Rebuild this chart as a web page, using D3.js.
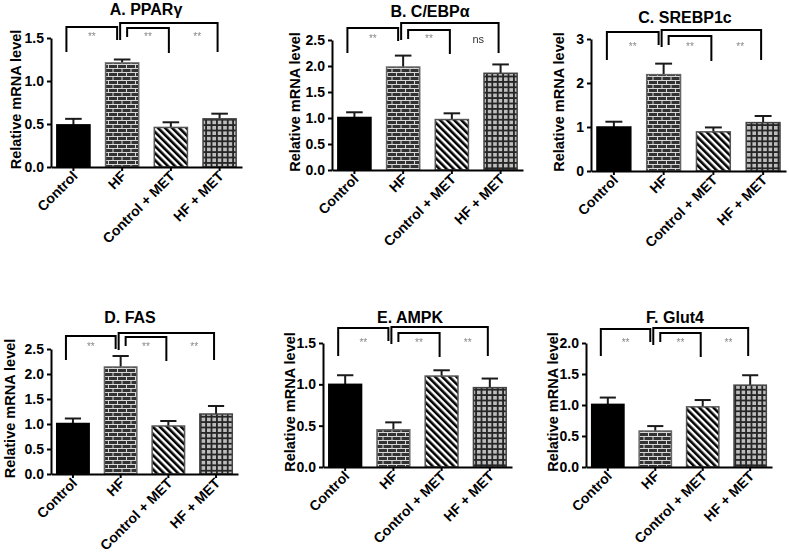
<!DOCTYPE html>
<html>
<head>
<meta charset="utf-8">
<script src="https://cdn.jsdelivr.net/npm/d3@7"></script>
<style>
  body { margin: 0; background: #fff; }
  text { font-family: "Liberation Sans", Arial, sans-serif; }
  .sigs { filter: grayscale(1); }
</style>
</head>
<body>
<svg id="fig" width="789" height="553"></svg>
<script>
// groups and panel titles
var groups = ["Control", "HF", "Control + MET", "HF + MET"];
var titles = ["A. PPAR\u03b3", "B. C/EBP\u03b1", "C. SREBP1c", "D. FAS", "E. AMPK", "F. Glut4"];

// mean relative mRNA level per group, and SEM
var pparg = [0.49, 1.21, 0.46, 0.56];
var ppargErr = [0.07, 0.04, 0.06, 0.06];
var cebpa = [1.01, 1.98, 0.97, 1.86];
var cebpaErr = [0.10, 0.22, 0.12, 0.17];
var srebp1c = [1.00, 2.19, 0.89, 1.10];
var srebp1cErr = [0.12, 0.25, 0.10, 0.15];
var fas = [1.01, 2.14, 0.96, 1.20];
var fasErr = [0.10, 0.22, 0.10, 0.16];
var ampk = [1.00, 0.45, 1.10, 0.96];
var ampkErr = [0.11, 0.09, 0.07, 0.11];
var glut4 = [1.01, 0.58, 0.97, 1.32];
var glut4Err = [0.11, 0.08, 0.11, 0.16];

// y axis max and tick step
var yMax = [1.5, 2.5, 3, 2.5, 1.5, 2.0];
var yStep = [0.5, 0.5, 1, 0.5, 0.5, 0.5];

// significance: HF vs Control, HF vs Control+MET, HF vs HF+MET
var sig = [
  ["**", "**", "**"],
  ["**", "**", "ns"],
  ["**", "**", "**"],
  ["**", "**", "**"],
  ["**", "**", "**"],
  ["**", "**", "**"]
];

var means = [pparg, cebpa, srebp1c, fas, ampk, glut4];
var errs = [ppargErr, cebpaErr, srebp1cErr, fasErr, ampkErr, glut4Err];

// panel placement (px)
var layout = [
  {x0: 51,  x1: 242, yTop: 38,  yBot: 167, titleX: 146, titleY: 15,  labelX: 16,  br: [-11, -15, -10, 14, 0]},
  {x0: 332, x1: 523, yTop: 40,  yBot: 170, titleX: 430, titleY: 17,  labelX: 295, br: [-12, -17, -10, 13, 0]},
  {x0: 591, x1: 786, yTop: 39,  yBot: 171, titleX: 685, titleY: 23,  labelX: 559, br: [-7, -9, -3, 21, 9]},
  {x0: 51,  x1: 238, yTop: 349, yBot: 474, titleX: 130, titleY: 323, labelX: 10,  br: [-13, -16, -12, 11, -1]},
  {x0: 323, x1: 512, yTop: 343, yBot: 467, titleX: 410, titleY: 323, labelX: 290, br: [-15, -16, -10, 13, 1]},
  {x0: 586, x1: 772, yTop: 343, yBot: 467, titleX: 675, titleY: 323, labelX: 553, br: [-14, -15, -10, 13, 1]}
];

var svg = d3.select("#fig");
var defs = svg.append("defs");

// brick pattern for HF
var brick = defs.append("pattern").attr("id", "brick")
  .attr("patternUnits", "userSpaceOnUse").attr("width", 9).attr("height", 8);
brick.append("rect").attr("width", 9).attr("height", 8).attr("fill", "#333");
brick.append("path")
  .attr("d", "M0,0.5H9M0,4.5H9M0.5,0V4.5M5,4.5V8")
  .attr("stroke", "#d8d8d8").attr("stroke-width", 1).attr("fill", "none");

// diagonal stripes for Control + MET
var stripe = defs.append("pattern").attr("id", "stripe")
  .attr("patternUnits", "userSpaceOnUse").attr("width", 5).attr("height", 5)
  .attr("patternTransform", "rotate(-45)");
stripe.append("rect").attr("width", 5).attr("height", 5).attr("fill", "#fff");
stripe.append("rect").attr("width", 2.6).attr("height", 5).attr("fill", "#000");

// grid for HF + MET
var grid = defs.append("pattern").attr("id", "grid")
  .attr("patternUnits", "userSpaceOnUse").attr("width", 5.4).attr("height", 5.4);
grid.append("rect").attr("width", 5.4).attr("height", 5.4).attr("fill", "#262626");
grid.append("rect").attr("x", 1.8).attr("y", 1.8).attr("width", 3.6).attr("height", 3.6).attr("fill", "#bdbdbd");

var fills = ["#000", "url(#brick)", "url(#stripe)", "url(#grid)"];
var strokes = ["#000", "#666", "#555", "#444"];

layout.forEach(function(p, i) {
  drawPanel(p, i);
});

function drawPanel(p, i) {
  var g = svg.append("g");
  var x = d3.scaleBand().domain(groups).range([p.x0, p.x1])
    .paddingInner(0.32).paddingOuter(0.12);
  var y = d3.scaleLinear().domain([0, yMax[i]]).range([p.yBot, p.yTop]);
  var bw = x.bandwidth();

  var rows = groups.map(function(name, k) {
    return {name: name, v: means[i][k], e: errs[i][k], k: k};
  });

  // error bars (upper only)
  var eb = g.selectAll(".err").data(rows).join("g").attr("class", "err")
    .attr("stroke", "#1a1a1a").attr("stroke-width", 2);
  eb.append("line")
    .attr("x1", function(d) { return x(d.name) + bw / 2; })
    .attr("x2", function(d) { return x(d.name) + bw / 2; })
    .attr("y1", function(d) { return y(d.v); })
    .attr("y2", function(d) { return y(d.v + d.e); });
  eb.append("line")
    .attr("x1", function(d) { return x(d.name) + bw / 4; })
    .attr("x2", function(d) { return x(d.name) + bw * 3 / 4; })
    .attr("y1", function(d) { return y(d.v + d.e); })
    .attr("y2", function(d) { return y(d.v + d.e); });

  // bars
  g.selectAll(".bar").data(rows).join("rect").attr("class", "bar")
    .attr("x", function(d) { return x(d.name); })
    .attr("width", bw)
    .attr("y", function(d) { return y(d.v); })
    .attr("height", function(d) { return y(0) - y(d.v); })
    .attr("fill", function(d) { return fills[d.k]; })
    .attr("stroke", function(d) { return strokes[d.k]; })
    .attr("stroke-width", 1.5);

  // axes
  var ticks = d3.range(0, yMax[i] + 1e-9, yStep[i]);
  var yAxis = d3.axisLeft(y).tickValues(ticks)
    .tickFormat(yStep[i] < 1 ? d3.format(".1f") : d3.format("d"))
    .tickSize(4).tickSizeOuter(0).tickPadding(3);
  var ya = g.append("g").attr("transform", "translate(" + p.x0 + ",0)").call(yAxis);

  var xAxis = d3.axisBottom(x).tickSize(4).tickSizeOuter(0).tickPadding(2);
  var xa = g.append("g").attr("transform", "translate(0," + p.yBot + ")").call(xAxis);

  [ya, xa].forEach(function(a) {
    a.select(".domain").attr("stroke", "#000").attr("stroke-width", 2);
    a.selectAll(".tick line").attr("stroke", "#000").attr("stroke-width", 2);
    a.selectAll(".tick text").attr("fill", "#000")
      .style("font-family", "'Liberation Sans', Arial, sans-serif")
      .style("font-weight", "bold").style("font-size", "14px");
  });
  xa.selectAll(".tick text")
    .attr("text-anchor", "end")
    .attr("dy", null).attr("y", null)
    .attr("transform", "translate(5,10) rotate(-45)");

  // y axis title
  g.append("text")
    .attr("transform", "translate(" + (p.labelX + 5) + "," + ((p.yTop + p.yBot) / 2 - 3) + ") rotate(-90)")
    .attr("text-anchor", "middle")
    .style("font-weight", "bold").style("font-size", "14.5px")
    .text("Relative mRNA level");

  // panel title
  g.append("text")
    .attr("x", p.titleX).attr("y", p.titleY)
    .attr("text-anchor", "middle")
    .style("font-weight", "bold").style("font-size", "16px")
    .text(titles[i]);

  // significance brackets
  var c = groups.map(function(n) { return x(n) + bw / 2; });
  var b = p.br;
  var t1 = p.yTop + b[0], tOut = p.yTop + b[1], tIn = p.yTop + b[2], bot = p.yTop + b[3];
  var legs = [
    [c[0] - 7, bot, t1, c[1] - 5, t1 + 13],
    [c[1] + 5, tIn + 9, tIn, c[2] - 2, bot + 1],
    [c[1] - 2, tOut + 17, tOut, c[3] - 2, bot]
  ];
  g.selectAll(".brk").data(legs).join("path").attr("class", "brk")
    .attr("d", function(d) { return "M" + d[0] + "," + d[1] + "V" + d[2] + "H" + d[3] + "V" + d[4]; })
    .attr("fill", "none").attr("stroke", "#000").attr("stroke-width", 2);

  var lx = [(c[0] - 7 + c[1] - 5) / 2, (c[1] + 5 + c[2] - 2) / 2, (c[2] - 2 + c[3] - 2) / 2 + 4];
  var sg = g.append("g").attr("class", "sigs");
  sg.selectAll(".sig").data(sig[i]).join("text").attr("class", "sig")
    .attr("x", function(d, k) { return lx[k]; })
    .attr("y", function(d) { return p.yTop + b[4] + (d === "ns" ? 3 : 2); })
    .attr("text-anchor", "middle")
    .attr("fill", function(d) { return d === "ns" ? "#333" : "#888"; })
    .style("font-size", function(d) { return d === "ns" ? "11px" : "10px"; })
    .text(function(d) { return d; });
}
</script>
</body>
</html>
